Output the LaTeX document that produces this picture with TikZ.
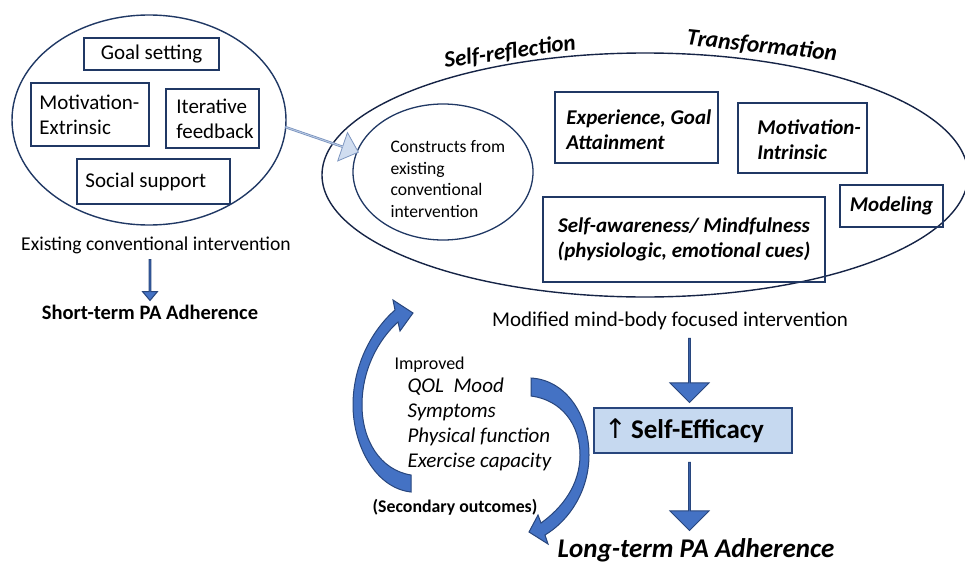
\documentclass[tikz,border=0pt]{standalone}
\usepackage{fontspec}
\setmainfont{Carlito}
\newfontfamily\symfont{DejaVu Sans}
\definecolor{marine}{RGB}{32,56,100}
\definecolor{nuit}{RGB}{22,36,70}
\definecolor{bleuf}{RGB}{68,114,196}
\definecolor{bleud}{RGB}{40,70,125}
\definecolor{bleupale}{RGB}{198,217,240}
\definecolor{ciel}{RGB}{208,221,240}
\definecolor{cielb}{RGB}{125,150,192}
\usetikzlibrary{shapes.geometric,shapes.arrows}

\begin{document}
\begin{tikzpicture}[x=1pt,y=-1pt,
    boite/.style={draw=marine,line width=1.6pt,inner sep=0pt,font=\fontsize{21}{25}\selectfont},
    boiteb/.style={boite,font=\bfseries\itshape\fontsize{21}{25}\selectfont},
    texte/.style={anchor=west,align=left,inner sep=0pt,font=\fontsize{21}{25}\selectfont},
    texteb/.style={texte,font=\bfseries\itshape\fontsize{21}{25}\selectfont},
    fleche/.style={single arrow,draw=bleud,fill=bleuf,line width=1pt,inner sep=0pt,single arrow tip angle=90}]
\useasboundingbox (0,0) rectangle (965,562);

\node[ellipse,draw=marine,line width=1.4pt,minimum width=274pt,minimum height=210pt,inner sep=0pt] (gauche) at (149,120) {};
\node[ellipse,draw=nuit,line width=1.4pt,minimum width=646pt,minimum height=244pt,inner sep=0pt] (grande) at (645,175) {};
\node[ellipse,draw=marine,line width=1.3pt,minimum width=180pt,minimum height=136pt,inner sep=0pt] (cercle) at (443,172) {};

\node[boite,align=center,minimum width=135pt,minimum height=32pt] (goal) at (151.5,54) {Goal setting};
\node[boite,minimum width=118pt,minimum height=63pt] (motext) at (90,114.5) {};
\node[texte] (motext-t) at ([xshift=9pt]motext.west) {Motivation-\\Extrinsic};
\node[boite,minimum width=93pt,minimum height=59pt] (iter) at (212.5,118.5) {};
\node[texte] (iter-t) at ([xshift=11pt]iter.west) {Iterative\\feedback};
\node[boite,minimum width=153pt,minimum height=45pt] (social) at (153.5,181.5) {};
\node[texte] (social-t) at ([xshift=9pt]social.west) {Social support};

\node[font=\fontsize{19.6}{23}\selectfont] (exist) at (156,245) {Existing conventional intervention};
\node[fleche,rotate=-90,minimum height=41pt,minimum width=15pt,single arrow head extend=4pt,single arrow tip angle=80] (petite) at (150,279.5) {};
\node[font=\bfseries\fontsize{20.5}{24}\selectfont] (short) at (150,312) {Short-term PA Adherence};

\node[single arrow,draw=cielb,fill=ciel,line width=0.8pt,inner sep=0pt,rotate=-19,minimum height=77pt,minimum width=30pt,single arrow head extend=7pt,single arrow tip angle=84] (passage) at (321.5,139.5) {};

\node[anchor=west,align=left,font=\fontsize{17.6}{21.5}\selectfont] (construit) at (387,179) {Constructs from\\existing\\conventional\\intervention};

\node[rotate=8,font=\bfseries\itshape\fontsize{23}{27}\selectfont] (reflexion) at (510,52) {Self-reflection};
\node[rotate=-6,font=\bfseries\itshape\fontsize{23.5}{27}\selectfont] (transfo) at (762,46) {Transformation};

\node[boiteb,minimum width=163pt,minimum height=71pt] (exper) at (636.5,127.5) {};
\node[texteb] (exper-t) at ([xshift=12pt,yshift=-2pt]exper.west) {Experience, Goal\\Attainment};
\node[boiteb,minimum width=129pt,minimum height=70pt] (motint) at (802.5,138) {};
\node[texteb] (motint-t) at ([xshift=20pt,yshift=-2pt]motint.west) {Motivation-\\Intrinsic};
\node[boiteb,align=center,minimum width=103pt,minimum height=42pt] (model) at (891.5,206) {Modeling};
\node[boiteb,align=center,minimum width=282pt,minimum height=85pt] (aware) at (684,239.5) {Self-awareness/ Mindfulness\\(physiologic, emotional cues)};

\node[font=\fontsize{21}{25}\selectfont] (modif) at (670,321) {Modified mind-body focused intervention};
\node[fleche,rotate=-90,minimum height=64pt,minimum width=39pt,single arrow head extend=10pt] (haut) at (689.5,370) {};
\node[draw=bleud,fill=bleupale,line width=1.5pt,align=left,text width=178pt,inner xsep=10pt,minimum height=45pt,font=\bfseries\fontsize{27}{31}\selectfont] (eff) at (693,430.5) {{\symfont\mdseries ↑}\,Self-Efficacy};
\node[fleche,rotate=-90,minimum height=68pt,minimum width=39pt,single arrow head extend=10pt] (bas) at (689.5,496) {};
\node[font=\bfseries\itshape\fontsize{27}{31}\selectfont] (long) at (696,550) {Long-term PA Adherence};

\draw[draw=bleud,fill=bleuf,line width=1pt] (411,492) .. controls (375,488) and (353,445) .. (353,405)
  .. controls (353,365) and (372,330) .. (395,310) -- (393,300) -- (413,313) -- (400,331) -- (398,322)
  .. controls (378,340) and (362,370) .. (362,405) .. controls (362,440) and (380,470) .. (411,475) -- cycle;
\draw[draw=bleud,fill=bleuf,line width=1pt] (531,378) .. controls (566,380) and (589,415) .. (589,455)
  .. controls (589,490) and (570,520) .. (545,535) -- (548,544) -- (529,532) -- (538,515) -- (541,523)
  .. controls (562,508) and (580,485) .. (580,455) .. controls (580,425) and (562,400) .. (531,396) -- cycle;

\node[anchor=west,font=\fontsize{18}{21}\selectfont] (improved) at (391,365) {Improved};
\node[anchor=north west,align=left,font=\itshape\fontsize{21}{25}\selectfont] (issues) at (404,374) {QOL\ \ Mood\\Symptoms\\Physical function\\Exercise capacity};
\node[font=\bfseries\fontsize{17.8}{21}\selectfont] (second) at (455,507) {(Secondary outcomes)};
\end{tikzpicture}
\end{document}
